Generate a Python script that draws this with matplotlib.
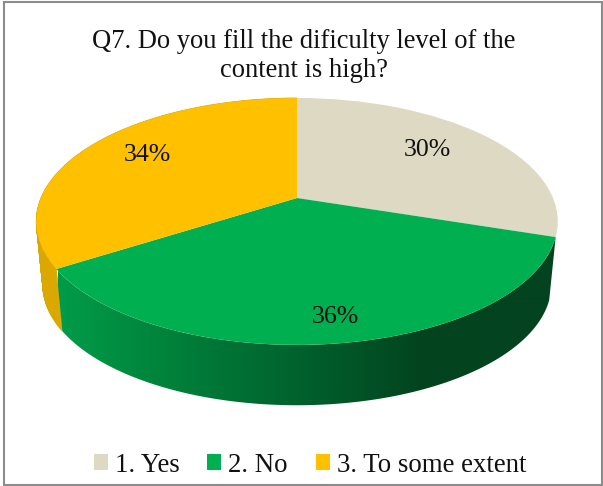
import matplotlib
matplotlib.use("Agg")
import matplotlib.pyplot as plt
import numpy as np
from matplotlib.collections import PolyCollection
from matplotlib.colors import LinearSegmentedColormap
from matplotlib.patches import Polygon, Rectangle
from matplotlib.transforms import Transform

plt.rcParams['font.family'] = ['Liberation Serif', 'DejaVu Serif']

title = "Q7. Do you fill the dificulty level of the\ncontent is high?"
categories = ["1. Yes", "2. No", "3. To some extent"]
values = [30, 36, 34]
colors = ["#DDD9C3", "#00B050", "#FFC000"]
yellow_side = "#DBA800"

# perspective of the tilted disc, in pixels of the picture
CX, CY = 297, 198
A, B, K = 256, 119, 0.19
DEPTH_SCALE, DEPTH_CY = 0.975, 262


class Tilt(Transform):
    input_dims = 2
    output_dims = 2

    def __init__(self, scale=1.0, cy=CY):
        super().__init__()
        self.scale = scale
        self.cy = cy

    def transform_non_affine(self, xy):
        xy = np.asarray(xy, dtype=float)
        d = 1 + K * xy[:, 1]
        return np.column_stack([CX + self.scale * A * xy[:, 0] / d,
                                self.cy - self.scale * B * xy[:, 1] / d])


fig = plt.figure(figsize=(6.03, 4.86), dpi=100)
ax = fig.add_axes([0, 0, 1, 1])

wedges, _ = ax.pie(values, colors=colors, startangle=90, counterclock=False, radius=1)

top = Tilt()
bottom = Tilt(DEPTH_SCALE, DEPTH_CY)
for w in wedges:
    w.set_transform(top + ax.transData)
    w.set_zorder(5)
    w.set_linewidth(0)

edges = np.cumsum([0] + values) / sum(values) * 2 * np.pi


def rim(i):
    th = np.linspace(edges[i], edges[i + 1], 200)
    circle = np.column_stack([np.sin(th), np.cos(th)])
    return top.transform(circle), bottom.transform(circle)


# side wall of the yellow part, flat colour
p0, p1 = rim(2)
quads = [[p0[j], p0[j + 1], p1[j + 1], p1[j]] for j in range(len(p0) - 1)]
ax.add_collection(PolyCollection(quads, facecolors=yellow_side, edgecolors=yellow_side,
                                 linewidths=0.5, zorder=3))

# side wall of the green part, gradient along x
green_shade = LinearSegmentedColormap.from_list(
    "g", [(0, "#009C49"), (0.2, "#00843C"), (0.5, "#005F2C"), (0.72, "#03451F"), (1, "#03431F")])
p0, p1 = rim(1)
wall = Polygon(np.vstack([p0, p1[::-1]]), closed=True, facecolor="none", edgecolor="none",
               transform=ax.transData)
ax.add_patch(wall)
grad = ax.imshow(np.linspace(0, 1, 500)[None, :], cmap=green_shade, extent=(58, 558, 410, 230),
                 aspect="auto", zorder=4, interpolation="bilinear")
grad.set_clip_path(wall)

ax.set_aspect("auto")
ax.set_xlim(0, 603)
ax.set_ylim(486, 0)

ax.text(304, 56, title, ha="center", va="center", fontsize=19.1, linespacing=1.2, color="#111111", zorder=6)

label_x = [427, 335, 147]
label_y = [150, 317, 155]
for v, x, y in zip(values, label_x, label_y):
    ax.text(x, y, f"{v}%", ha="center", va="center", fontsize=18.6, color="#111111", zorder=6)

leg = ax.legend(wedges, categories, ncol=3, frameon=False, fontsize=19.4,
                loc="center", bbox_to_anchor=(310 / 603, 1 - 465 / 486),
                handlelength=0.52, handleheight=0.52, handletextpad=0.26, columnspacing=1.04)
for t in leg.get_texts():
    t.set_color("#111111")

ax.add_patch(Rectangle((4, 2), 597.5, 483, fill=False, edgecolor="#8C8C8C", linewidth=1.5, zorder=7))

fig.savefig("out.png", dpi=100, facecolor="white")
